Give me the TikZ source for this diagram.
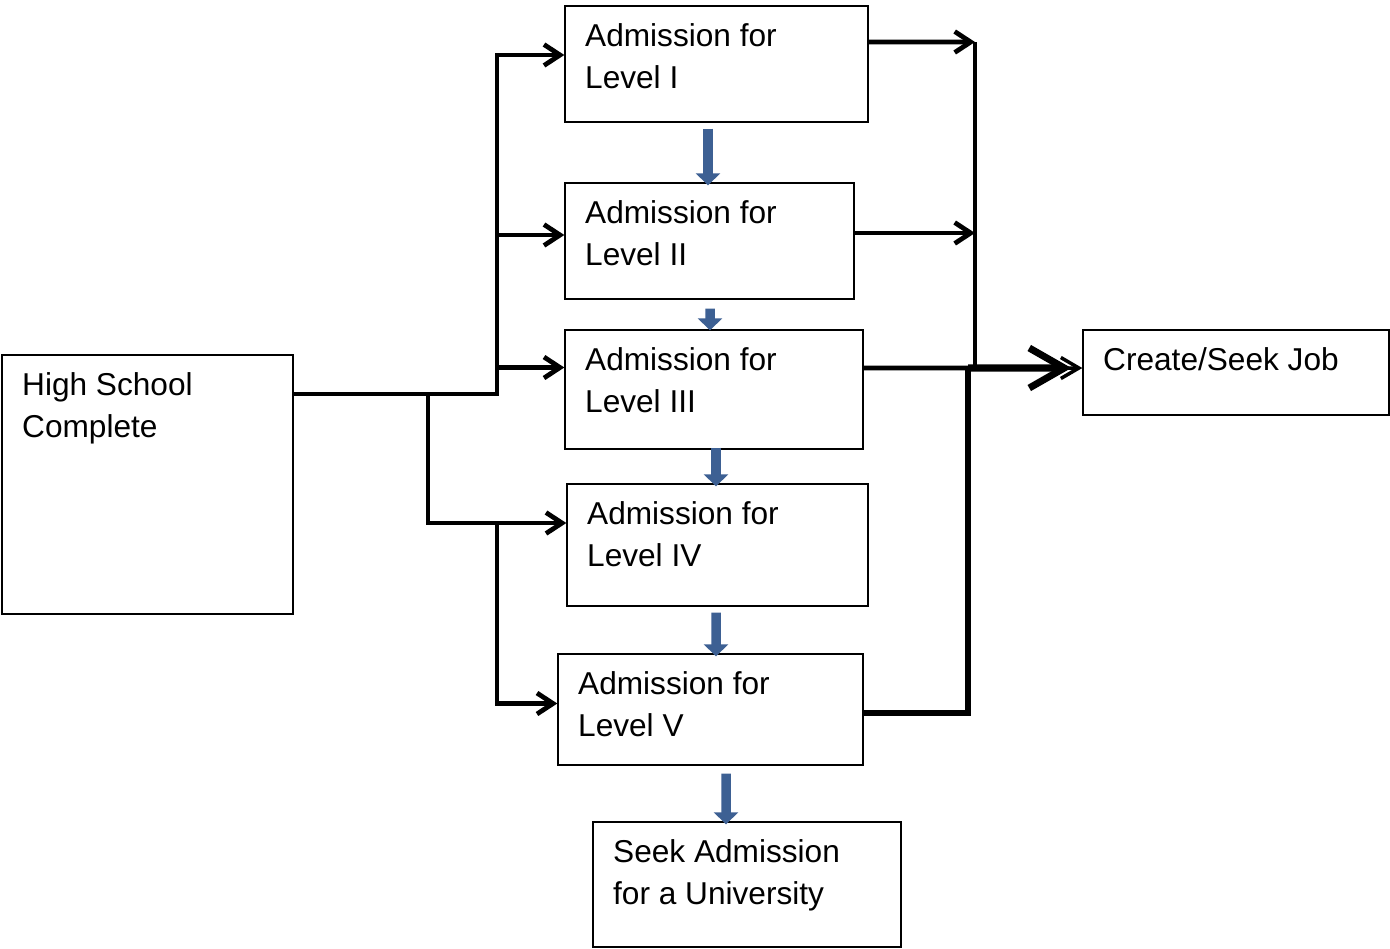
\documentclass[tikz,border=0pt]{standalone}
\usepackage{fontspec}
\setmainfont{Liberation Sans}
\usetikzlibrary{arrows.meta, positioning, calc}
\definecolor{steel}{HTML}{3D6093}
\tikzset{
  box/.style={draw, line width=0.8pt, inner sep=0pt},
  txt/.style={anchor=north west, inner sep=0pt, align=left,
    font=\fontsize{18}{24}\selectfont, xshift=0.41cm, yshift=-0.36cm},
  wire/.style={line width=2.7pt},
  tip/.style={-{Straight Barb[length=3.2mm,width=4.2mm]}},
  blk/.style={steel, line width=0.19cm, -{Triangle[length=2.4mm,width=4.8mm]}}
}

\begin{document}
\begin{tikzpicture}[x=0.02cm, y=-0.02cm]
  \useasboundingbox (0,0) rectangle (1390,948);

  % boxes
  \node[box, minimum width=5.82cm, minimum height=5.18cm,
    label={[txt]north west:{High School\\Complete}}] (hs) at (147.5,484.5) {};
  \node[box, minimum width=6.06cm, minimum height=2.32cm,
    label={[txt]north west:{Admission for\\Level I}}] (lone) at (716.5,64) {};
  \node[box, minimum width=5.78cm, minimum height=2.32cm,
    label={[txt]north west:{Admission for\\Level II}}] (ltwo) at (709.5,241) {};
  \node[box, minimum width=5.96cm, minimum height=2.38cm,
    label={[txt]north west:{Admission for\\Level III}}] (lthree) at (714,389.5) {};
  \node[box, minimum width=6.02cm, minimum height=2.44cm,
    label={[txt]north west:{Admission for\\Level IV}}] (lfour) at (717.5,545) {};
  \node[box, minimum width=6.10cm, minimum height=2.22cm,
    label={[txt]north west:{Admission for\\Level V}}] (lfive) at (710.5,709.5) {};
  \node[box, minimum width=6.12cm, minimum height=1.70cm,
    label={[txt]north west:{Create/Seek Job}}] (job) at (1236,372.5) {};
  \node[box, minimum width=6.16cm, minimum height=2.50cm,
    label={[txt]north west:{Seek Admission\\for a University}}] (uni) at (747,884.5) {};

  % junctions
  \coordinate (split) at (428,394);
  \coordinate (trunk) at (497,394);
  \coordinate (ltrunk) at (497,523);
  \coordinate (rtop) at (975,42);
  \coordinate (rjoin) at (975,368);
  \coordinate (hub) at (968,368);

  % entry and exit points
  \coordinate (ione) at ([yshift=0.18cm]lone.west);
  \coordinate (itwo) at ([yshift=0.12cm]ltwo.west);
  \coordinate (ithree) at ([yshift=0.44cm]lthree.west);
  \coordinate (ifour) at ([yshift=0.44cm]lfour.west);
  \coordinate (ifive) at ([yshift=0.12cm]lfive.west);
  \coordinate (oone) at ([yshift=0.44cm]lone.east);
  \coordinate (otwo) at ([yshift=0.16cm]ltwo.east);
  \coordinate (othree) at ([yshift=0.43cm]lthree.east);
  \coordinate (ofive) at ([yshift=-0.07cm]lfive.east);
  \coordinate (ijob) at ([yshift=0.09cm]job.west);

  % left side
  \draw[wire, tip] (hs.east |- split) -- (trunk) |- (ione);
  \draw[wire, tip] (itwo -| trunk) -- (itwo);
  \draw[wire, tip] (ithree -| trunk) -- (ithree);
  \draw[wire, tip] (split) |- (ifour);
  \draw[wire, tip] (ltrunk) |- (ifive);

  % right side
  \draw[wire, tip] (oone) -- (rtop);
  \draw[wire, line width=2.2pt] (rtop) -- (rjoin);
  \draw[wire, tip] (otwo) -- (otwo -| rtop);
  \draw[wire] (othree) -- (rjoin);
  \draw[wire, line width=3.4pt] (ofive) -| (hub);
  \draw[wire, line width=4pt, -{Straight Barb[length=7mm,width=8mm]}]
    (hub) -- ([xshift=-0.22cm]ijob);
  \draw[wire, line width=2pt, -{Straight Barb[length=3.6mm,width=4.2mm]}]
    (hub) -- (ijob);

  % level steps
  \draw[blk] ($(lone.south)+(-8.5,6)$) -- ($(ltwo.north)+(-1.5,3)$);
  \draw[blk] ($(ltwo.south)+(0.5,9)$) -- ($(lthree.north)+(-4,1)$);
  \draw[blk] ($(lthree.south)+(2,-2)$) -- ($(lfour.north)+(-1.5,3)$);
  \draw[blk] ($(lfour.south)+(-1.5,6)$) -- ($(lfive.north)+(5.5,3)$);
  \draw[blk] ($(lfive.south)+(15.5,8)$) -- ($(uni.north)+(-21,3)$);
\end{tikzpicture}
\end{document}
